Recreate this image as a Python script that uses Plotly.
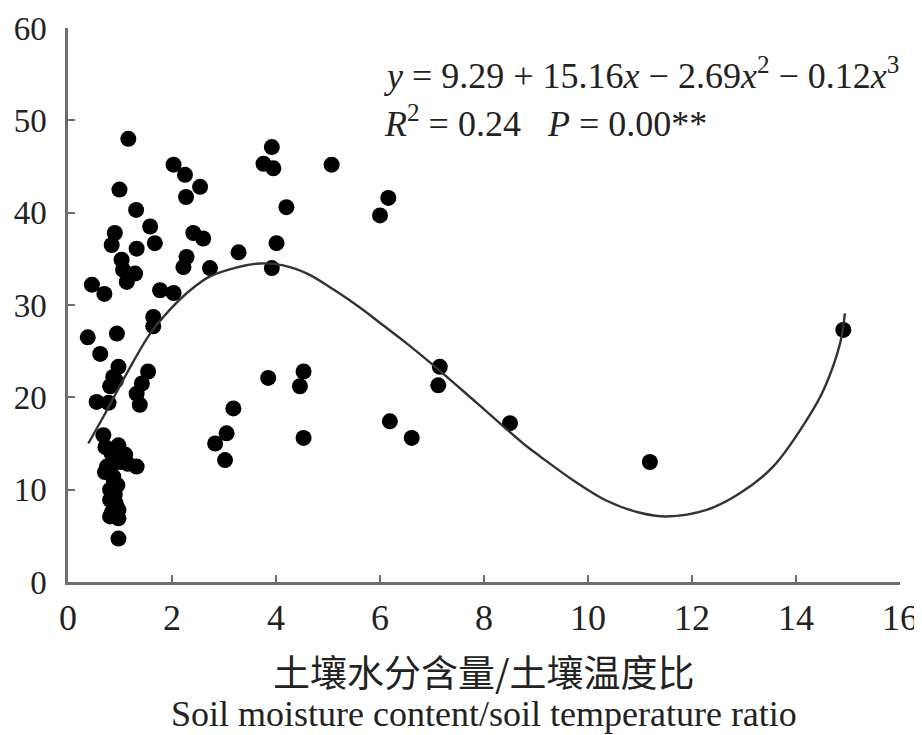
import plotly.graph_objects as go

# Scatter observations (soil moisture / soil temperature ratio vs response)
ratio = [0.38, 0.46, 0.62, 0.55, 0.70, 1.16, 2.03, 2.25, 2.54, 2.27, 0.99, 1.31, 0.90, 0.84,
         1.58, 1.67, 1.32, 2.41, 2.60, 2.28, 2.22, 2.73, 3.28, 1.03, 1.06, 1.29, 1.13, 1.77,
         2.03, 1.64, 1.64, 0.94, 0.97, 0.87, 0.81, 1.54, 1.42, 1.32, 0.78, 1.38, 0.68, 0.97,
         0.84, 1.10, 1.32, 0.71, 0.87, 0.81, 0.81, 0.97, 0.81, 0.97, 0.97, 0.75, 0.90, 0.85,
         0.78, 0.88, 0.92, 0.85, 0.95, 1.00, 1.15, 0.72, 0.92,
         3.18, 3.05, 2.83, 3.02, 3.76, 3.92, 3.95, 5.07, 6.16, 6.00, 4.20, 4.01, 3.92, 3.85,
         4.53, 4.46, 4.53, 7.15, 7.12, 6.19, 6.61, 8.50, 11.19, 14.91]
value = [26.5, 32.2, 24.7, 19.5, 31.2, 48.0, 45.2, 44.1, 42.8, 41.7, 42.5, 40.3, 37.8, 36.5,
         38.5, 36.7, 36.1, 37.8, 37.2, 35.2, 34.1, 34.0, 35.7, 34.9, 33.8, 33.4, 32.5, 31.6,
         31.3, 28.7, 27.7, 26.9, 23.3, 22.2, 21.2, 22.8, 21.5, 20.4, 19.4, 19.2, 15.9, 14.8,
         13.9, 13.8, 12.5, 11.9, 11.4, 10.0, 8.9, 7.8, 7.1, 6.9, 4.7, 12.5, 9.5, 12.8,
         12.0, 11.0, 8.5, 7.6, 10.5, 13.0, 12.8, 14.6, 21.8,
         18.8, 16.1, 15.0, 13.2, 45.3, 47.1, 44.8, 45.2, 41.6, 39.7, 40.6, 36.7, 34.0, 22.1,
         22.8, 21.2, 15.6, 23.3, 21.3, 17.4, 15.6, 17.2, 13.0, 27.3]

# Fitted curve, points
curve_x = [0.39, 0.68, 1.13, 1.58, 1.96, 2.35, 2.73, 3.20, 3.69, 4.14, 4.60, 5.10, 5.62,
           6.06, 6.50, 7.00, 7.86, 8.82, 9.08, 9.72, 10.36, 11.00, 11.51, 12.28, 12.92,
           13.56, 14.20, 14.53, 14.85, 14.94]
curve_y = [15.0, 17.9, 22.6, 26.9, 29.5, 31.6, 33.1, 34.0, 34.5, 34.3, 33.4, 31.7, 29.7,
           27.8, 25.9, 23.6, 19.4, 14.7, 13.6, 11.0, 8.8, 7.5, 7.1, 7.8, 9.6,
           12.5, 17.5, 20.8, 25.9, 29.1]

x_ticks = [0, 2, 4, 6, 8, 10, 12, 14, 16]
y_ticks = [0, 10, 20, 30, 40, 50, 60]

eq_line1 = "<i>y</i> = 9.29 + 15.16<i>x</i> − 2.69<i>x</i><sup>2</sup> − 0.12<i>x</i><sup>3</sup>"
eq_line2 = "<i>R</i><sup>2</sup> = 0.24\u00a0\u00a0\u00a0<i>P</i> = 0.00**"
title_cn = "土壤水分含量/土壤温度比"
title_en = "Soil moisture content/soil temperature ratio"

SERIF = "Liberation Serif"
INK = "#222222"
AXIS = "#6e6e6e"

fig = go.Figure()
fig.add_trace(go.Scatter(x=ratio, y=value, mode="markers",
                         marker=dict(size=16, color="black"), cliponaxis=False))
fig.add_trace(go.Scatter(x=curve_x, y=curve_y, mode="lines",
                         line=dict(color="#333333", width=2.4, shape="spline", smoothing=1.0)))

axis_common = dict(showgrid=False, zeroline=False, showline=True, linecolor=AXIS,
                   linewidth=2.5, ticks="inside", ticklen=7, tickwidth=2, tickcolor=AXIS,
                   automargin=False)
fig.update_xaxes(range=[0, 16], tickvals=x_ticks, ticklabelstandoff=2,
                 tickfont=dict(family=SERIF, size=36, color=INK), **axis_common)
fig.update_yaxes(range=[0, 60], tickvals=y_ticks, ticklabelstandoff=12,
                 tickfont=dict(family=SERIF, size=33, color=INK), **axis_common)

fig.add_annotation(text=eq_line1, xref="paper", yref="paper", x=(382 - 68) / 832, y=(582 - 74) / 554,
                   xanchor="left", yanchor="middle", showarrow=False,
                   font=dict(family=SERIF, size=36, color=INK))
fig.add_annotation(text=eq_line2, xref="paper", yref="paper", x=(382 - 68) / 832, y=(582 - 122) / 554,
                   xanchor="left", yanchor="middle", showarrow=False,
                   font=dict(family=SERIF, size=36, color=INK))
fig.add_annotation(text=title_cn, xref="paper", yref="paper", x=0.5, y=(582 - 671) / 554,
                   xanchor="center", yanchor="middle", showarrow=False,
                   font=dict(family="Noto Sans CJK SC", size=37, color=INK))
fig.add_annotation(text=title_en, xref="paper", yref="paper", x=0.5, y=(582 - 714) / 554,
                   xanchor="center", yanchor="middle", showarrow=False,
                   font=dict(family=SERIF, size=36, color=INK))

# The page body has an 8px default margin, so the figure is sized to fit the window
fig.update_layout(width=914, height=727, margin=dict(l=60, r=22, t=20, b=153),
                  plot_bgcolor="white", paper_bgcolor="white", showlegend=False)

fig.write_html("out.html")
